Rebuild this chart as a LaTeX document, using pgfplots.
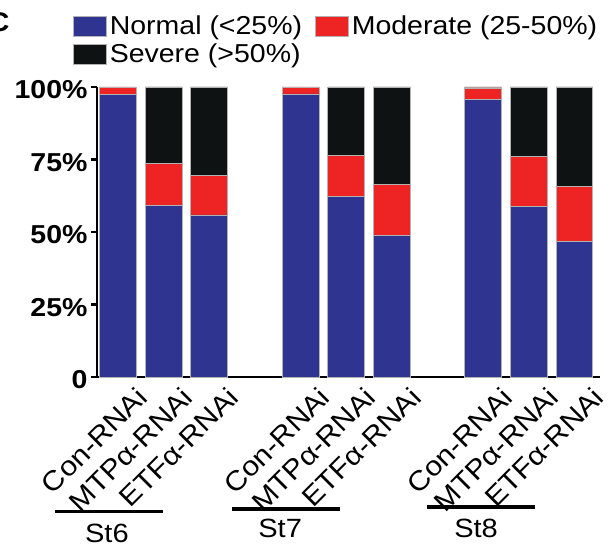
\documentclass[border=0pt]{standalone}
\usepackage{pgfplots}
\pgfplotsset{compat=1.18}
\usepackage{fontspec}
\setmainfont{Liberation Sans}[FakeStretch=1.1]
\definecolor{cBlue}{RGB}{46,52,143}
\definecolor{cRed}{RGB}{238,35,36}
\definecolor{cBlack}{RGB}{15,18,18}
\pgfplotsset{mylegend/.style={legend image code/.code={\fill[##1] (0bp,-10bp) rectangle (33bp,10bp);}}}
\begin{document}
\begin{tikzpicture}
\useasboundingbox (-97bp,-170bp) rectangle (515bp,377bp);
\begin{axis}[
  at={(0,0)}, anchor=south west,
  scale only axis, width=503bp, height=290bp,
  ybar stacked, bar width=36.7bp,
  xmin=-0.456, xmax=10.56, ymin=0, ymax=100,
  axis x line*=bottom, axis y line*=left,
  axis line style={-, line width=2.2bp},
  xtick={0,1,2,4,5,6,8,9,10},
  xticklabels={Con-RNAi,MTPα-RNAi,ETFα-RNAi,Con-RNAi,MTPα-RNAi,ETFα-RNAi,Con-RNAi,MTPα-RNAi,ETFα-RNAi},
  x tick style={draw=none},
  ytick={0,25,50,75,100}, yticklabels={0,25\%,50\%,75\%,100\%},
  y tick style={line width=2.2bp, black},
  tick align=outside, major tick length=6bp,
  xticklabel style={xshift=17bp, yshift=-2bp, rotate=45, anchor=north east, inner sep=0pt, font=\fontsize{27.5}{30}\selectfont},
  yticklabel style={yshift=-3bp, font=\bfseries\fontsize{26}{28}\selectfont},
  clip=false,
  legend columns=2,
  legend style={at={(-0.0477,1.256)}, anchor=north west, draw=none, fill=none, inner sep=0pt,
    font=\fontsize{26}{29}\selectfont, nodes={inner sep=3bp}, row sep=2bp,
    /tikz/every even column/.append style={column sep=10bp}},
  legend cell align=left,
  every axis plot post/.append style={mylegend},
]
\addplot[fill=cBlue, draw=gray!60, line width=0.6bp] coordinates {(0,97.5) (1,59.3) (2,55.9) (4,97.6) (5,62.3) (6,48.8) (8,95.8) (9,58.9) (10,46.7)};
\addlegendentry{Normal (<25\%)}
\addplot[fill=cRed, draw=gray!60, line width=0.6bp] coordinates {(0,2.5) (1,14.3) (2,13.5) (4,2.4) (5,14.0) (6,17.6) (8,3.9) (9,17.3) (10,19.1)};
\addlegendentry{Moderate (25-50\%)}
\addplot[fill=cBlack, draw=gray!60, line width=0.6bp] coordinates {(0,0) (1,26.4) (2,30.6) (4,0) (5,23.7) (6,33.6) (8,0.3) (9,23.8) (10,34.2)};
\addlegendentry{Severe (>50\%)}
\draw[line width=3.3bp] ([yshift=-134.7bp]axis cs:-1.377,0) -- ([yshift=-134.7bp]axis cs:0.991,0);
\draw[line width=3.3bp] ([yshift=-132bp]axis cs:2.50,0) -- ([yshift=-132bp]axis cs:4.87,0);
\draw[line width=3.3bp] ([yshift=-130bp]axis cs:6.77,0) -- ([yshift=-130bp]axis cs:9.14,0);
\node[anchor=base, font=\fontsize{26.5}{30}\selectfont] at ([yshift=-165bp]axis cs:-0.24,0) {St6};
\node[anchor=base, font=\fontsize{26.5}{30}\selectfont] at ([yshift=-160bp]axis cs:3.555,0) {St7};
\node[anchor=base, font=\fontsize{26.5}{30}\selectfont] at ([yshift=-160bp]axis cs:7.846,0) {St8};
\end{axis}
\node[anchor=base east, font=\bfseries\fontsize{27}{30}\selectfont] at (-84bp,345bp) {C};
\end{tikzpicture}
\end{document}
